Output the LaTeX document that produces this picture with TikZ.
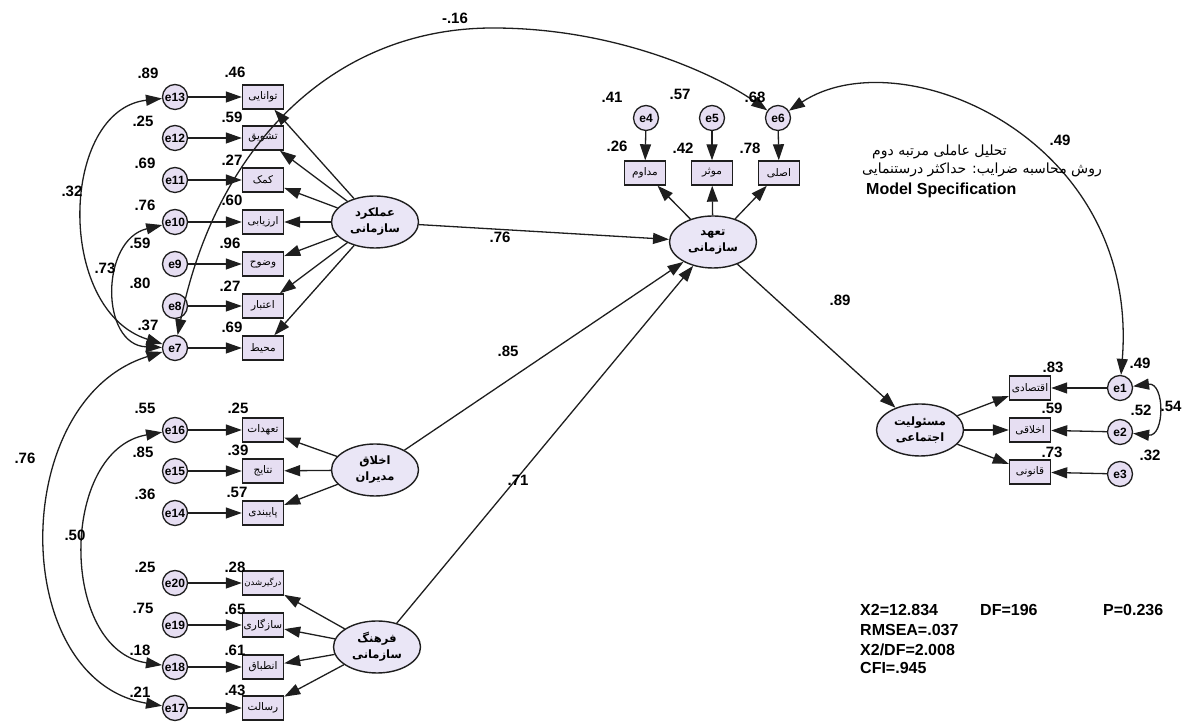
\documentclass[tikz,border=0pt]{standalone}
\usepackage{fontspec}
\setmainfont{Liberation Sans}
\newfontfamily\fafont[Script=Arabic]{DejaVu Sans}
\TeXXeTstate=1
\newcommand{\pers}[1]{{\fafont\beginR #1\endR}}
\usetikzlibrary{arrows.meta,shapes.geometric,positioning}

\definecolor{boxfill}{RGB}{230,222,242}
\definecolor{latfill}{RGB}{234,230,246}
\definecolor{lineclr}{RGB}{30,30,30}

\tikzset{
  obs/.style={draw=lineclr, line width=1.4pt, fill=boxfill, minimum width=41pt, minimum height=24pt, inner sep=0pt, font=\fontsize{10.5}{11}\selectfont},
  err/.style={circle, draw=lineclr, line width=1.3pt, fill=boxfill, minimum size=25pt, inner sep=0pt, font=\bfseries\fontsize{12}{12}\selectfont},
  lat/.style={ellipse, draw=lineclr, line width=1.4pt, fill=latfill, minimum width=87pt, minimum height=52pt, inner sep=0pt, align=center, font=\bfseries\fontsize{11.5}{16}\selectfont},
  coef/.style={font=\bfseries\fontsize{15}{15}\selectfont, inner sep=0pt},
  fit/.style={font=\bfseries\fontsize{16}{16}\selectfont, inner sep=0pt, anchor=west},
  arr/.style={-{Triangle[length=16pt,width=11pt]}, line width=1.3pt, draw=lineclr},
  cov/.style={{Triangle[length=16pt,width=11pt]}-{Triangle[length=16pt,width=11pt]}, line width=1.3pt, draw=lineclr},
}

\begin{document}
\begin{tikzpicture}[x=1pt, y=1pt]
    \useasboundingbox (0,0) rectangle (1183,727);

    % organisational performance
    \node[err] (e13) at (175,630) {e13};
    \node[err] (e12) at (175,589) {e12};
    \node[err] (e11) at (175,547) {e11};
    \node[err] (e10) at (175,505) {e10};
    \node[err] (e9) at (175,463) {e9};
    \node[err] (e8) at (175,421) {e8};
    \node[err] (e7) at (175,379) {e7};
    \node[obs] (ability) at (263,630) {\pers{توانایی}};
    \node[obs] (incentive) at (263,589) {\pers{تشویق}};
    \node[obs] (help) at (263,547) {\pers{کمک}};
    \node[obs] (evaluation) at (263,505) {\pers{ارزیابی}};
    \node[obs] (clarity) at (263,463) {\pers{وضوح}};
    \node[obs] (validity) at (263,421) {\pers{اعتبار}};
    \node[obs] (environment) at (263,379) {\pers{محیط}};
    \node[lat] (perf) at (375,505) {\pers{عملکرد}\\\pers{سازمانی}};

    % managers' ethics
    \node[err] (e16) at (175,297) {e16};
    \node[err] (e15) at (175,256) {e15};
    \node[err] (e14) at (175,214) {e14};
    \node[obs] (duty) at (263,297) {\pers{تعهدات}};
    \node[obs] (result) at (263,256) {\pers{نتایج}};
    \node[obs] (adhere) at (263,214) {\pers{پایبندی}};
    \node[lat] (ethics) at (375,257) {\pers{اخلاق}\\\pers{مدیران}};

    % organisational culture
    \node[err] (e20) at (175,144) {e20};
    \node[err] (e19) at (175,102) {e19};
    \node[err] (e18) at (175,60) {e18};
    \node[err] (e17) at (175,19) {e17};
    \node[obs, font=\fontsize{8.5}{9}\selectfont] (involve) at (263,144) {\pers{درگیرشدن}};
    \node[obs] (adapt) at (263,102) {\pers{سازگاری}};
    \node[obs] (consist) at (263,60) {\pers{انطباق}};
    \node[obs] (mission) at (263,19) {\pers{رسالت}};
    \node[lat] (culture) at (377,80) {\pers{فرهنگ}\\\pers{سازمانی}};

    % organisational commitment
    \node[lat] (commit) at (713,485) {\pers{تعهد}\\\pers{سازمانی}};
    \node[obs] (contin) at (645,554) {\pers{مداوم}};
    \node[obs] (affect) at (712,554) {\pers{موثر}};
    \node[obs] (norm) at (779,554) {\pers{اصلی}};
    \node[err] (e4) at (646,609) {e4};
    \node[err] (e5) at (712,609) {e5};
    \node[err] (e6) at (778,609) {e6};

    % social responsibility
    \node[lat] (csr) at (920,297) {\pers{مسئولیت}\\\pers{اجتماعی}};
    \node[obs] (econ) at (1030,339) {\pers{اقتصادی}};
    \node[obs] (ethic) at (1030,297) {\pers{اخلاقی}};
    \node[obs] (legal) at (1030,255) {\pers{قانونی}};
    \node[err] (e1) at (1120,339) {e1};
    \node[err] (e2) at (1120,295) {e2};
    \node[err] (e3) at (1120,253) {e3};

    % loadings and error paths
    \draw[arr] (perf) -- (ability);
    \draw[arr] (perf) -- (incentive);
    \draw[arr] (perf) -- (help);
    \draw[arr] (perf) -- (evaluation);
    \draw[arr] (perf) -- (clarity);
    \draw[arr] (perf) -- (validity);
    \draw[arr] (perf) -- (environment);
    \draw[arr] (e13) -- (ability);
    \draw[arr] (e12) -- (incentive);
    \draw[arr] (e11) -- (help);
    \draw[arr] (e10) -- (evaluation);
    \draw[arr] (e9) -- (clarity);
    \draw[arr] (e8) -- (validity);
    \draw[arr] (e7) -- (environment);

    \draw[arr] (ethics) -- (duty);
    \draw[arr] (ethics) -- (result);
    \draw[arr] (ethics) -- (adhere);
    \draw[arr] (e16) -- (duty);
    \draw[arr] (e15) -- (result);
    \draw[arr] (e14) -- (adhere);

    \draw[arr] (culture) -- (involve);
    \draw[arr] (culture) -- (adapt);
    \draw[arr] (culture) -- (consist);
    \draw[arr] (culture) -- (mission);
    \draw[arr] (e20) -- (involve);
    \draw[arr] (e19) -- (adapt);
    \draw[arr] (e18) -- (consist);
    \draw[arr] (e17) -- (mission);

    \draw[arr] (commit) -- (contin);
    \draw[arr] (commit) -- (affect);
    \draw[arr] (commit) -- (norm);
    \draw[arr] (e4) -- (contin);
    \draw[arr] (e5) -- (affect);
    \draw[arr] (e6) -- (norm);

    \draw[arr] (csr) -- (econ);
    \draw[arr] (csr) -- (ethic);
    \draw[arr] (csr) -- (legal);
    \draw[arr] (e1) -- (econ);
    \draw[arr] (e2) -- (ethic);
    \draw[arr] (e3) -- (legal);

    % structural paths
    \draw[arr] (perf) -- (commit);
    \draw[arr] (ethics) -- (commit);
    \draw[arr] (culture) -- (commit);
    \draw[arr] (commit) -- (csr);

    % covariances
    \draw[cov] (e13) .. controls (60,617) and (55,417) .. (e7);
    \draw[cov] (e10) .. controls (100,487) and (100,382) .. (e7);
    \draw[cov] (e7) .. controls (8,327) and (8,47) .. (e17);
    \draw[cov] (e16) .. controls (59,277) and (59,77) .. (e18);
    \draw[cov] (e7) .. controls (215,577) and (330,699) .. (493,699) .. controls (620,699) and (720,650) .. (e6);
    \draw[cov] (e6) .. controls (900,690) and (1140,590) .. (e1);
    \draw[cov] (e1) .. controls (1165,345) and (1165,290) .. (e2);

    % estimates
    \node[coef] (v13) at (148,654) {.89};
    \node[coef] (v12) at (143,606) {.25};
    \node[coef] (v11) at (145,564) {.69};
    \node[coef] (v10) at (145,522) {.76};
    \node[coef] (v9) at (140,484) {.59};
    \node[coef] (v8) at (140,444) {.80};
    \node[coef] (v7) at (148,402) {.37};
    \node[coef] (r13) at (235,655) {.46};
    \node[coef] (r12) at (232,610) {.59};
    \node[coef] (r11) at (232,567) {.27};
    \node[coef] (r10) at (232,527) {.60};
    \node[coef] (r9) at (230,484) {.96};
    \node[coef] (r8) at (230,441) {.27};
    \node[coef] (r7) at (232,400) {.69};
    \node[coef] (c137) at (72,536) {.32};
    \node[coef] (c107) at (105,459) {.73};

    \node[coef] (v16) at (145,319) {.55};
    \node[coef] (v15) at (143,275) {.85};
    \node[coef] (v14) at (145,233) {.36};
    \node[coef] (r16) at (238,319) {.25};
    \node[coef] (r15) at (238,277) {.39};
    \node[coef] (r14) at (237,235) {.57};
    \node[coef] (c717) at (25,269) {.76};
    \node[coef] (c1618) at (75,192) {.50};

    \node[coef] (v20) at (145,160) {.25};
    \node[coef] (v19) at (143,119) {.75};
    \node[coef] (v18) at (140,77) {.18};
    \node[coef] (v17) at (140,35) {.21};
    \node[coef] (r20) at (235,160) {.28};
    \node[coef] (r19) at (235,118) {.65};
    \node[coef] (r18) at (235,77) {.61};
    \node[coef] (r17) at (235,37) {.43};

    \node[coef] (v4) at (612,630) {.41};
    \node[coef] (v5) at (680,633) {.57};
    \node[coef] (v6) at (755,630) {.68};
    \node[coef] (r4) at (617,581) {.26};
    \node[coef] (r5) at (683,579) {.42};
    \node[coef] (r6) at (750,579) {.78};

    \node[coef] (p1) at (500,490) {.76};
    \node[coef] (p2) at (508,376) {.85};
    \node[coef] (p3) at (518,247) {.71};
    \node[coef] (p4) at (840,427) {.89};
    \node[coef] (c76) at (455,709) {-.16};
    \node[coef] (c61) at (1060,587) {.49};

    \node[coef] (r1) at (1053,360) {.83};
    \node[coef] (r2) at (1052,319) {.59};
    \node[coef] (r3) at (1052,275) {.73};
    \node[coef] (v1) at (1140,364) {.49};
    \node[coef] (v2) at (1141,317) {.52};
    \node[coef] (c12) at (1171,321) {.54};
    \node[coef] (v3) at (1150,272) {.32};

    % title and fit
    \node[anchor=west, inner sep=0pt, font=\fontsize{14}{14}\selectfont] (title1) at (872,575) {\pers{تحلیل عاملی مرتبه دوم}};
    \node[anchor=west, inner sep=0pt, font=\fontsize{14}{14}\selectfont] (title2) at (862,557) {\pers{روش محاسبه ضرایب: حداکثر درستنمایی}};
    \node[fit] (title3) at (866,537) {Model Specification};

    \node[fit] (chi) at (860,117) {X2=12.834};
    \node[fit] (df) at (980,117) {DF=196};
    \node[fit] (pval) at (1103,117) {P=0.236};
    \node[fit] (rmsea) at (860,97) {RMSEA=.037};
    \node[fit] (chidf) at (860,77) {X2/DF=2.008};
    \node[fit] (cfi) at (860,59) {CFI=.945};
\end{tikzpicture}
\end{document}
